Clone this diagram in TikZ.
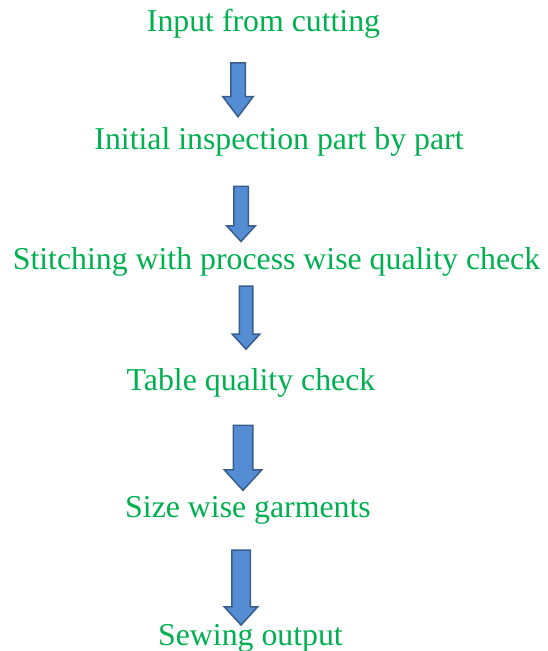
\documentclass[tikz,border=0pt]{standalone}
\usepackage{fontspec}
\setmainfont{Liberation Serif}
\usepackage{xcolor}
\usepackage{tikz}
\usetikzlibrary{shapes.arrows, positioning}
\definecolor{stagegreen}{RGB}{0, 176, 80}
\definecolor{arrowblue}{RGB}{84, 141, 212}
\definecolor{arrowedge}{RGB}{56, 93, 138}

\begin{document}
\begin{tikzpicture}[
    x=1pt, y=-1pt,
    stage/.style={inner sep=0pt, anchor=base, text=stagegreen, font=\fontsize{31.8}{36}\selectfont},
    downarrow/.style={single arrow, shape border rotate=270, draw=arrowedge, line width=1.5pt, fill=arrowblue, single arrow tip angle=85}
]
    \useasboundingbox (0,0) rectangle (547,651);

    \node[stage] (input) at (263.5,31) {Input from cutting};
    \node[stage] (inspect) at (279,149) {Initial inspection part by part};
    \node[stage] (stitch) at (276.5,269) {Stitching with process wise quality check};
    \node[stage] (table) at (251,390) {Table quality check};
    \node[stage] (size) at (248,517) {Size wise garments};
    \node[stage] (output) at (250.5,645) {Sewing output};

    % block arrows between the stages
    \node[downarrow, inner sep=6.5pt, minimum height=54pt, minimum width=30pt, single arrow head extend=8pt, single arrow tip angle=74] (arr1) at (238,85) {};
    \node[downarrow, inner sep=6.5pt, minimum height=55pt, minimum width=28pt, single arrow head extend=7pt] (arr2) at (241,210) {};
    \node[downarrow, inner sep=6pt, minimum height=63pt, minimum width=27pt, single arrow head extend=7pt] (arr3) at (246,314) {};
    \node[downarrow, inner sep=9pt, minimum height=65pt, minimum width=37pt, single arrow head extend=9pt] (arr4) at (243,452.5) {};
    \node[downarrow, inner sep=8.5pt, minimum height=75pt, minimum width=33pt, single arrow head extend=7.5pt] (arr5) at (241,582.5) {};
\end{tikzpicture}
\end{document}
